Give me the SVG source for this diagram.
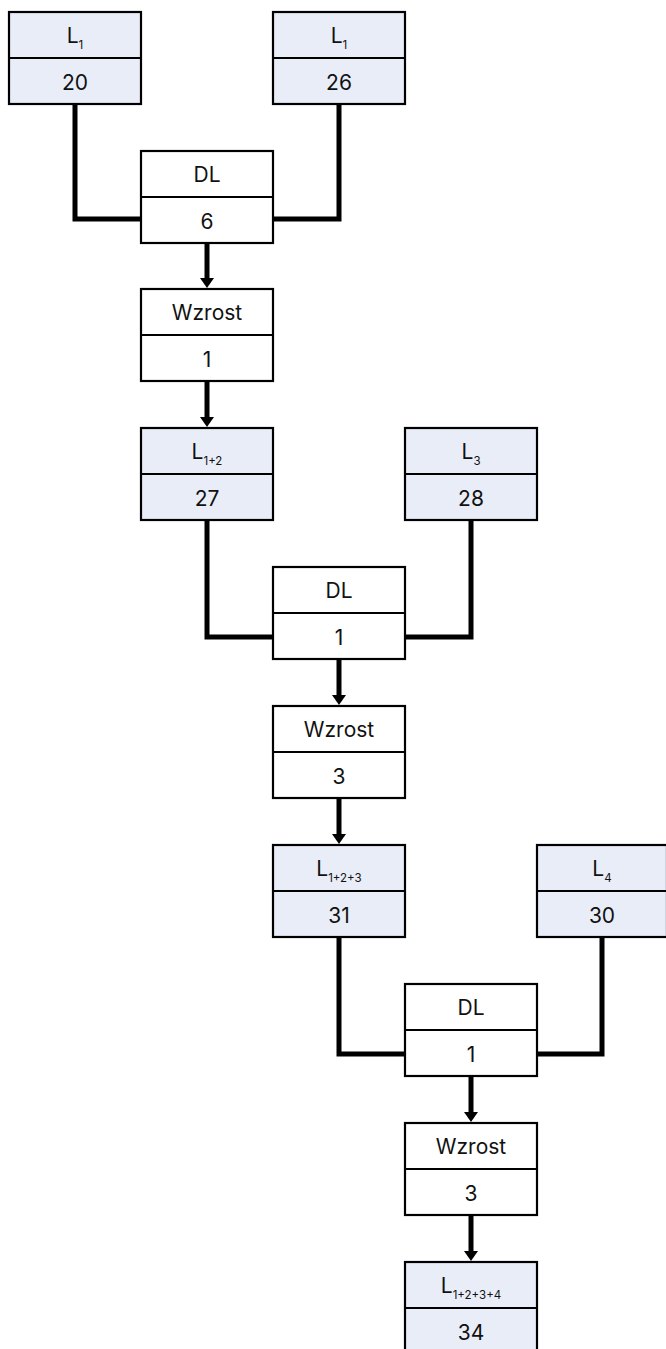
<svg xmlns="http://www.w3.org/2000/svg" width="666" height="1349" viewBox="0 0 666 1349">
<style>
.bx{stroke:#000;stroke-width:2.2}
.lb{fill:#e9edf8}
.wh{fill:#fff}
.dv{stroke:#000;stroke-width:2.2}
.t{font-family:Inter,"Liberation Sans",sans-serif;font-size:21px;fill:#111;text-anchor:middle}
.s{font-size:11.5px}
.c{fill:none;stroke:#000;stroke-width:5;stroke-linejoin:miter;stroke-linecap:butt}
.ah{fill:#000}
</style>
<rect width="666" height="1349" fill="#fff"/>
<g id="connectors">
<path class="c" d="M75 104 V219 H141"/>
<path class="c" d="M339 104 V219 H273"/>
<path class="c" d="M207 243 V279"/><polygon class="ah" points="200,278 214,278 207,288"/>
<path class="c" d="M207 382 V418"/><polygon class="ah" points="200,417 214,417 207,427"/>
<path class="c" d="M207 521 V637 H273"/>
<path class="c" d="M471 521 V637 H405"/>
<path class="c" d="M339 660 V696"/><polygon class="ah" points="332,695 346,695 339,705"/>
<path class="c" d="M339 799 V835"/><polygon class="ah" points="332,834 346,834 339,844"/>
<path class="c" d="M339 938 V1054 H405"/>
<path class="c" d="M602 938 V1054 H537"/>
<path class="c" d="M471 1077 V1113"/><polygon class="ah" points="464,1112 478,1112 471,1122"/>
<path class="c" d="M471 1216 V1252"/><polygon class="ah" points="464,1251 478,1251 471,1261"/>
</g>
<g id="n-l1a"><rect class="bx lb" x="9" y="12" width="132" height="92"/><line class="dv" x1="9" y1="58" x2="141" y2="58"/><text class="t" x="75" y="43">L<tspan class="s" dy="6">1</tspan></text><text class="t" x="75" y="90">20</text></g>
<g id="n-l1b"><rect class="bx lb" x="273" y="12" width="132" height="92"/><line class="dv" x1="273" y1="58" x2="405" y2="58"/><text class="t" x="339" y="43">L<tspan class="s" dy="6">1</tspan></text><text class="t" x="339" y="90">26</text></g>
<g id="n-dl1"><rect class="bx wh" x="141" y="151" width="132" height="92"/><line class="dv" x1="141" y1="197" x2="273" y2="197"/><text class="t" x="207" y="182">DL</text><text class="t" x="207" y="229">6</text></g>
<g id="n-w1"><rect class="bx wh" x="141" y="289" width="132" height="92"/><line class="dv" x1="141" y1="335" x2="273" y2="335"/><text class="t" x="207" y="320">Wzrost</text><text class="t" x="207" y="367">1</text></g>
<g id="n-l12"><rect class="bx lb" x="141" y="428" width="132" height="92"/><line class="dv" x1="141" y1="474" x2="273" y2="474"/><text class="t" x="207" y="459">L<tspan class="s" dy="6">1+2</tspan></text><text class="t" x="207" y="506">27</text></g>
<g id="n-l3"><rect class="bx lb" x="405" y="428" width="132" height="92"/><line class="dv" x1="405" y1="474" x2="537" y2="474"/><text class="t" x="471" y="459">L<tspan class="s" dy="6">3</tspan></text><text class="t" x="471" y="506">28</text></g>
<g id="n-dl2"><rect class="bx wh" x="273" y="567" width="132" height="92"/><line class="dv" x1="273" y1="613" x2="405" y2="613"/><text class="t" x="339" y="598">DL</text><text class="t" x="339" y="645">1</text></g>
<g id="n-w2"><rect class="bx wh" x="273" y="706" width="132" height="92"/><line class="dv" x1="273" y1="752" x2="405" y2="752"/><text class="t" x="339" y="737">Wzrost</text><text class="t" x="339" y="784">3</text></g>
<g id="n-l123"><rect class="bx lb" x="273" y="845" width="132" height="92"/><line class="dv" x1="273" y1="891" x2="405" y2="891"/><text class="t" x="339" y="876">L<tspan class="s" dy="6">1+2+3</tspan></text><text class="t" x="339" y="923">31</text></g>
<g id="n-l4"><rect class="bx lb" x="537" y="845" width="130" height="92"/><line class="dv" x1="537" y1="891" x2="667" y2="891"/><text class="t" x="602" y="876">L<tspan class="s" dy="6">4</tspan></text><text class="t" x="602" y="923">30</text></g>
<g id="n-dl3"><rect class="bx wh" x="405" y="984" width="132" height="92"/><line class="dv" x1="405" y1="1030" x2="537" y2="1030"/><text class="t" x="471" y="1015">DL</text><text class="t" x="471" y="1062">1</text></g>
<g id="n-w3"><rect class="bx wh" x="405" y="1123" width="132" height="92"/><line class="dv" x1="405" y1="1169" x2="537" y2="1169"/><text class="t" x="471" y="1154">Wzrost</text><text class="t" x="471" y="1201">3</text></g>
<g id="n-l1234"><rect class="bx lb" x="405" y="1262" width="132" height="92"/><line class="dv" x1="405" y1="1308" x2="537" y2="1308"/><text class="t" x="471" y="1293">L<tspan class="s" dy="6">1+2+3+4</tspan></text><text class="t" x="471" y="1340">34</text></g>
</svg>
